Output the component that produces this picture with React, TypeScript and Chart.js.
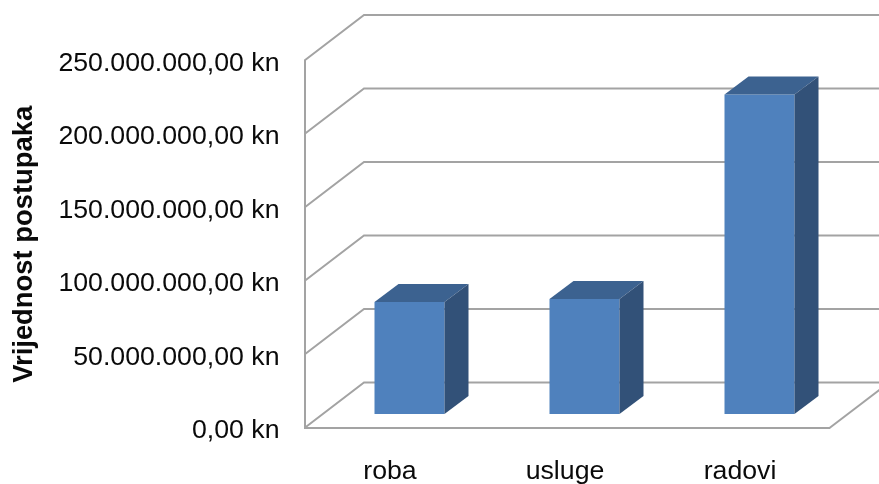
import React, { useEffect, useRef } from "react";
import { Chart, registerables } from "chart.js";

Chart.register(...registerables);

const categories = ["roba", "usluge", "radovi"];
const values = [76200000, 78200000, 217300000];
const tickValues = [0, 50000000, 100000000, 150000000, 200000000, 250000000];
const tickLabels = ["0,00 kn", "50.000.000,00 kn", "100.000.000,00 kn", "150.000.000,00 kn", "200.000.000,00 kn", "250.000.000,00 kn"];
const axisTitle = "Vrijednost postupaka";

const FONT = "'Liberation Sans', Arial, sans-serif";
const GRID = "#a3a3a3";
const FRONT = "#4f81bd";
const TOP = "#3c6290";
const SIDE = "#325178";
const WALL_DX = 59.5;
const WALL_DY = -45.5;
const BAR_SHIFT_X = 17.5;
const BAR_SHIFT_Y = -14;
const BAR_DX = 24;
const BAR_DY = -18;

const wallPlugin = {
  id: "wall3d",
  beforeDatasetsDraw(chart: any) {
    const { ctx, scales, chartArea, width } = chart;
    ctx.save();
    ctx.strokeStyle = GRID;
    ctx.lineWidth = 2;
    tickValues.forEach((v) => {
      const y = scales.y.getPixelForValue(v);
      ctx.beginPath();
      ctx.moveTo(chartArea.left, y);
      ctx.lineTo(chartArea.left + WALL_DX, y + WALL_DY);
      ctx.lineTo(width, y + WALL_DY);
      ctx.stroke();
    });
    ctx.beginPath();
    ctx.moveTo(chartArea.right, chartArea.bottom);
    ctx.lineTo(chartArea.right + WALL_DX, chartArea.bottom + WALL_DY);
    ctx.stroke();
    ctx.restore();
    ctx.save();
    ctx.translate(BAR_SHIFT_X, BAR_SHIFT_Y);
  },
  afterDatasetsDraw(chart: any) {
    const { ctx } = chart;
    chart.getDatasetMeta(0).data.forEach((bar: any) => {
      const l = bar.x - bar.width / 2;
      const r = bar.x + bar.width / 2;
      ctx.fillStyle = TOP;
      ctx.beginPath();
      ctx.moveTo(l, bar.y);
      ctx.lineTo(l + BAR_DX, bar.y + BAR_DY);
      ctx.lineTo(r + BAR_DX, bar.y + BAR_DY);
      ctx.lineTo(r, bar.y);
      ctx.closePath();
      ctx.fill();
      ctx.fillStyle = SIDE;
      ctx.beginPath();
      ctx.moveTo(r, bar.y);
      ctx.lineTo(r + BAR_DX, bar.y + BAR_DY);
      ctx.lineTo(r + BAR_DX, bar.base + BAR_DY);
      ctx.lineTo(r, bar.base);
      ctx.closePath();
      ctx.fill();
    });
    ctx.restore();
  },
};

export default function App() {
  const ref = useRef<HTMLCanvasElement | null>(null);
  useEffect(() => {
    const chart = new Chart(ref.current as HTMLCanvasElement, {
      type: "bar",
      data: {
        labels: categories,
        datasets: [
          {
            data: values,
            backgroundColor: FRONT,
            borderWidth: 0,
            barPercentage: 0.8,
            categoryPercentage: 0.5,
          },
        ],
      },
      options: {
        animation: false,
        responsive: false,
        layout: { padding: { top: 60.5, right: 49.5, left: 0, bottom: 0 } },
        plugins: { legend: { display: false }, tooltip: { enabled: false } },
        scales: {
          x: {
            afterFit(scale: any) {
              scale.height = 56;
            },
            grid: { display: false, drawTicks: false },
            border: { display: true, color: GRID, width: 2 },
            ticks: { color: "#0a0a0a", font: { family: FONT, size: 26.7 }, padding: 28, labelOffset: -2, maxRotation: 0 },
          },
          y: {
            min: 0,
            max: 250000000,
            afterFit(scale: any) {
              scale.width = 304.5;
            },
            afterBuildTicks(scale: any) {
              scale.ticks = tickValues.map((value) => ({ value }));
            },
            grid: { display: false, drawTicks: false },
            border: { display: true, color: GRID, width: 2 },
            ticks: {
              color: "#0a0a0a",
              font: { family: FONT, size: 26.7 },
              padding: 25,
              labelOffset: 3,
              callback: (v: any) => tickLabels[tickValues.indexOf(v)],
            },
            title: {
              display: true,
              text: axisTitle,
              color: "#0a0a0a",
              font: { family: FONT, size: 27.4, weight: "bold" },
              padding: { top: 8, bottom: 0 },
            },
          },
        },
      } as any,
      plugins: [wallPlugin],
    });
    return () => chart.destroy();
  }, []);
  return (
    <div style={{ position: "absolute", left: 0, top: 0, width: 879, height: 484, background: "#fff" }}>
      <canvas ref={ref} width={879} height={484} style={{ display: "block" }} />
    </div>
  );
}
